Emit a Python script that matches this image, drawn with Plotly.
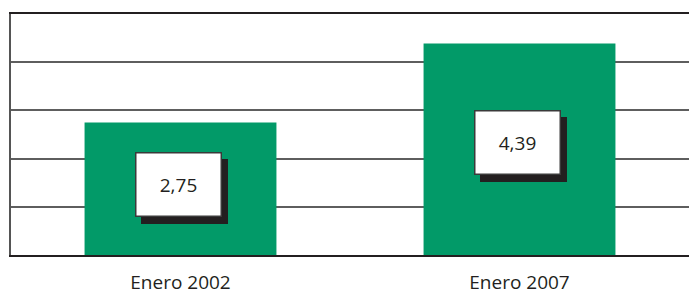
import plotly.graph_objects as go

categories = ["Enero 2002", "Enero 2007"]
values = [2.75, 4.39]
y_ticks = [0, 1, 2, 3, 4, 5]

GREEN = "#029a68"
DARK = "#231f20"

fig = go.Figure()
fig.add_trace(go.Bar(
    x=categories, y=values, marker=dict(color=GREEN, line=dict(width=0)),
    width=0.566, hoverinfo="skip", showlegend=False,
))

labels = [f"{v:.2f}".replace(".", ",") for v in values]
for cat, v, lab in zip(categories, values, labels):
    # shadow
    fig.add_annotation(x=cat, y=v * 0.53, xref="x", yref="y", text="",
                       showarrow=False, width=85, height=63, bgcolor=DARK,
                       bordercolor=DARK, borderwidth=1, borderpad=0,
                       xshift=4, yshift=-7)
    fig.add_annotation(x=cat, y=v * 0.53, xref="x", yref="y", text=lab,
                       showarrow=False, width=84, height=62, bgcolor="white",
                       bordercolor="#3a3a3a", borderwidth=1.5, borderpad=0,
                       xshift=-2, font=dict(family="Open Sans", size=19, color=DARK))

fig.update_layout(
    width=689, height=291,
    margin=dict(l=11, r=0, t=14, b=36, autoexpand=False),
    paper_bgcolor="white", plot_bgcolor="white",
    font=dict(family="Open Sans", color=DARK),
    xaxis=dict(showgrid=False, showline=True, linecolor=DARK, linewidth=2,
               mirror=True, ticks="", tickfont=dict(size=19, color=DARK),
               ticklabelstandoff=9, range=[-0.5, 1.5], automargin=False),
    yaxis=dict(range=[0, 5], tickvals=y_ticks, showticklabels=False,
               showgrid=True, gridcolor="#5e5e5e", gridwidth=1.5,
               showline=True, linecolor="#555555", linewidth=2,
               zeroline=False, ticks="", automargin=False),
)

fig.write_html(
    "out.html",
    config={"displayModeBar": False},
    post_script="document.body.style.margin='0';document.body.style.overflow='hidden';",
)
